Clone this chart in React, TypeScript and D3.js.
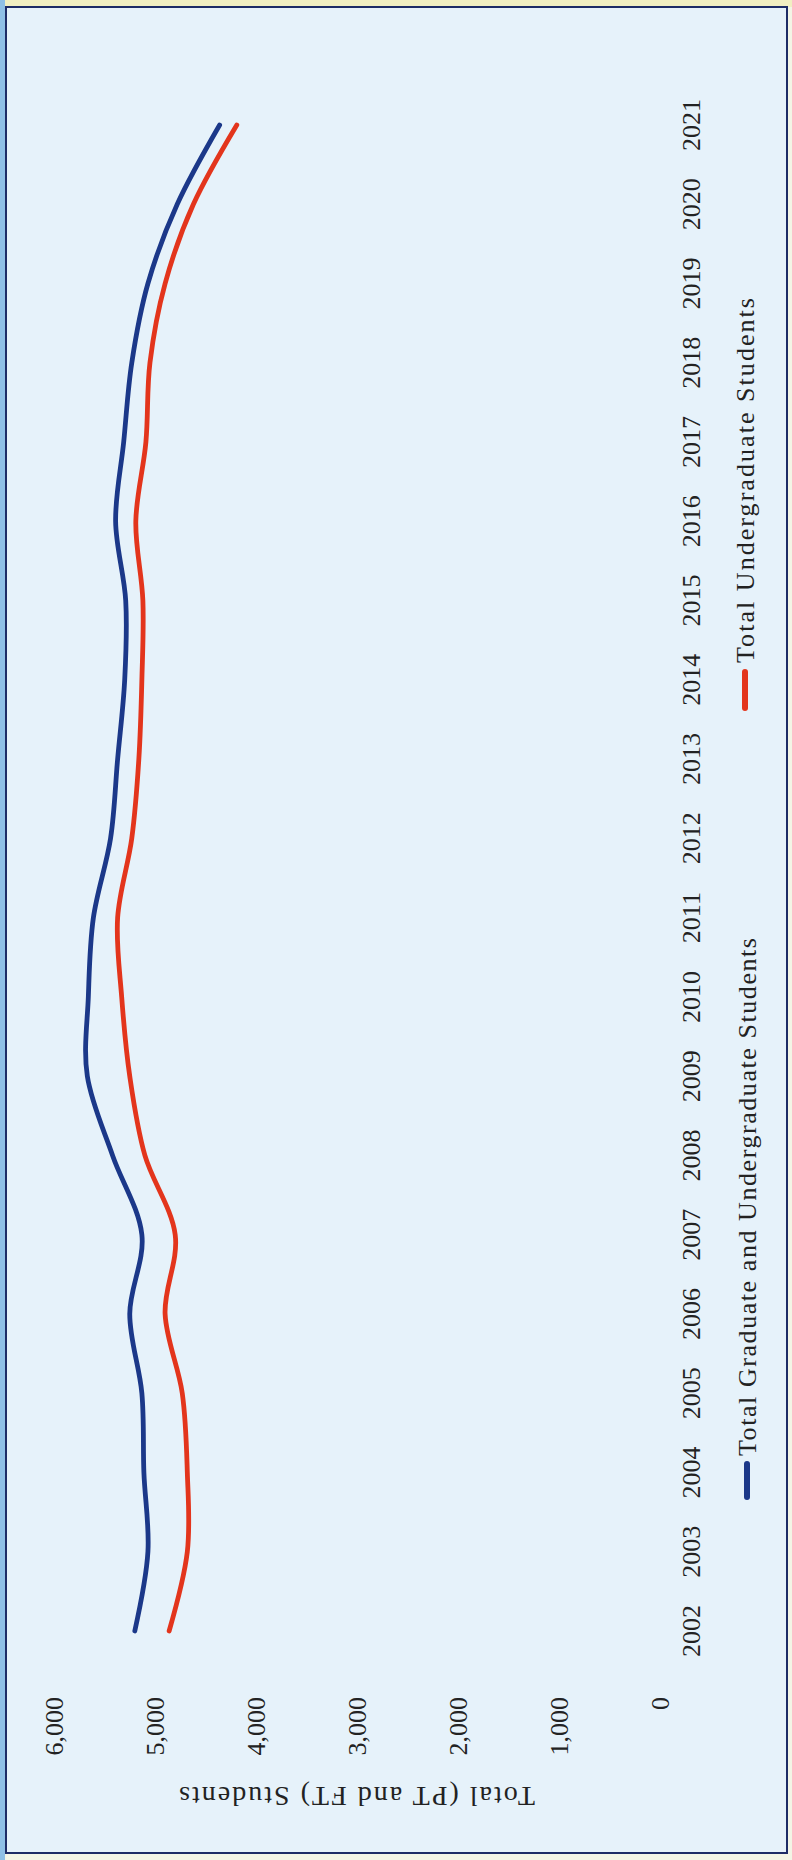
import React from "react";
import * as d3 from "d3";

const years = [2002, 2003, 2004, 2005, 2006, 2007, 2008, 2009, 2010, 2011, 2012, 2013, 2014, 2015, 2016, 2017, 2018, 2019, 2020, 2021];
const totalGradUndergrad = [5200, 5070, 5110, 5130, 5250, 5130, 5420, 5670, 5660, 5610, 5440, 5370, 5300, 5290, 5390, 5310, 5230, 5070, 4780, 4360];
const totalUndergrad = [4860, 4680, 4680, 4730, 4900, 4800, 5100, 5250, 5330, 5370, 5230, 5160, 5130, 5120, 5190, 5090, 5050, 4900, 4620, 4190];
const valueTicks = [0, 1000, 2000, 3000, 4000, 5000, 6000];
const seriesNames = ["Total Graduate and Undergraduate Students", "Total Undergraduate Students"];
const axisTitle = "Total (PT and FT) Students";

const W = 792;
const H = 1860;
const FONT = "'Liberation Serif', 'Times New Roman', serif";
const BLUE = "#1b3889";
const RED = "#e3351c";

export default function App() {
  const x = d3.scaleLinear().domain([0, 6000]).range([660, 54]);
  const y = d3.scalePoint<number>().domain(years).range([1631, 125]);
  const line = d3
    .line<number>()
    .x((v) => x(v))
    .y((_, i) => y(years[i]) as number)
    .curve(d3.curveCatmullRom.alpha(0));
  const fmt = d3.format(",");

  return (
    <svg width={W} height={H} style={{ position: "absolute", left: 0, top: 0 }} fontFamily={FONT}>
      <rect x={0} y={0} width={W} height={H} fill="#f3f5e6" />
      <rect x={0} y={0} width={W} height={7} fill="#f1efc2" />
      <rect x={0} y={0} width={5} height={H} fill="#8fc0e6" />
      <rect x={6} y={7} width={781} height={1846} fill="#e6f2fa" stroke="#1d2c66" strokeWidth={2} />

      {/* value axis labels */}
      {valueTicks.map((t) => (
        <text
          key={t}
          transform={`translate(${x(t)},1697) rotate(-90)`}
          textAnchor="end"
          dy="0.35em"
          fontSize={26}
          fill="#222"
        >
          {fmt(t)}
        </text>
      ))}

      {/* value axis title */}
      <text
        transform={`translate(357,1797) rotate(180)`}
        textAnchor="middle"
        dy="0.35em"
        fontSize={28}
        fill="#222"
        textLength={356}
        lengthAdjust="spacing"
      >
        {axisTitle}
      </text>

      {/* year labels */}
      {years.map((yr) => (
        <text
          key={yr}
          transform={`translate(691,${y(yr)}) rotate(-90)`}
          textAnchor="middle"
          dy="0.35em"
          fontSize={26}
          fill="#222"
        >
          {yr}
        </text>
      ))}

      {/* lines */}
      <path d={line(totalGradUndergrad) || ""} fill="none" stroke={BLUE} strokeWidth={4.8} strokeLinecap="round" />
      <path d={line(totalUndergrad) || ""} fill="none" stroke={RED} strokeWidth={4.8} strokeLinecap="round" />

      {/* legend */}
      <line x1={747} x2={747} y1={1497} y2={1464} stroke={BLUE} strokeWidth={6} strokeLinecap="round" />
      <text
        transform={`translate(747,1456) rotate(-90)`}
        textAnchor="start"
        dy="0.35em"
        fontSize={26}
        fill="#222"
        textLength={518}
        lengthAdjust="spacing"
      >
        {seriesNames[0]}
      </text>
      <line x1={745} x2={745} y1={708} y2={672} stroke={RED} strokeWidth={6} strokeLinecap="round" />
      <text
        transform={`translate(745,663) rotate(-90)`}
        textAnchor="start"
        dy="0.35em"
        fontSize={26}
        fill="#222"
        textLength={365}
        lengthAdjust="spacing"
      >
        {seriesNames[1]}
      </text>
    </svg>
  );
}
